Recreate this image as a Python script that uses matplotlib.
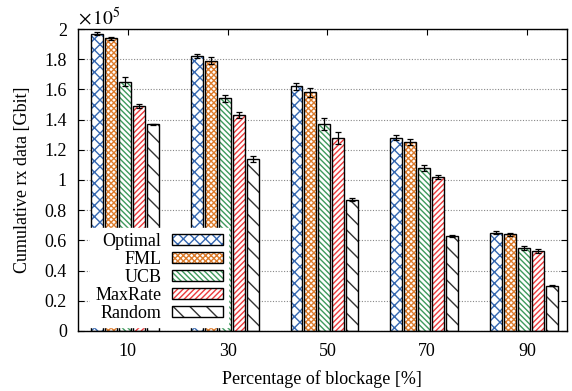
import numpy as np
import matplotlib
matplotlib.use("Agg")
import matplotlib.pyplot as plt
from matplotlib.patches import Patch
from matplotlib.legend_handler import HandlerTuple
import matplotlib.ticker as mticker

plt.rcParams["font.family"] = ["Liberation Serif", "DejaVu Serif"]
plt.rcParams["mathtext.fontset"] = "stix"
plt.rcParams["hatch.linewidth"] = 1.0

blockage = [10, 30, 50, 70, 90]
methods = ["Optimal", "FML", "UCB", "MaxRate", "Random"]

# cumulative rx data, in units of 1e5 Gbit
rx_mean = {
    "Optimal": [1.97, 1.82, 1.62, 1.28, 0.65],
    "FML":     [1.94, 1.79, 1.58, 1.25, 0.64],
    "UCB":     [1.65, 1.54, 1.37, 1.08, 0.55],
    "MaxRate": [1.49, 1.43, 1.28, 1.02, 0.53],
    "Random":  [1.37, 1.14, 0.87, 0.63, 0.30],
}
rx_err = {
    "Optimal": [0.010, 0.015, 0.025, 0.015, 0.010],
    "FML":     [0.010, 0.025, 0.030, 0.020, 0.008],
    "UCB":     [0.030, 0.025, 0.040, 0.020, 0.015],
    "MaxRate": [0.015, 0.020, 0.040, 0.015, 0.015],
    "Random":  [0.003, 0.020, 0.010, 0.005, 0.004],
}

COLORS = {"Optimal": "#3567b0", "FML": "#dd7c2c", "UCB": "#3e9a5c",
          "MaxRate": "#ec3a3c", "Random": "#333333"}
HATCHES = {"Optimal": "xxx", "FML": "xxxxxx", "UCB": "\\\\\\\\\\\\",
           "MaxRate": "//////", "Random": "\\\\"}

fig = plt.figure(figsize=(5.72, 3.91), dpi=100)
ax = fig.add_axes([0.1364, 0.1535, 0.8546, 0.7723])

width = 2.4
pitch = 2.8
x = np.array(blockage, dtype=float) - 0.6

for i, m in enumerate(methods):
    xs = x + (i - 2) * pitch
    ax.bar(xs, rx_mean[m], width, color="white", edgecolor=COLORS[m],
           hatch=HATCHES[m], linewidth=0, zorder=2)
    ax.bar(xs, rx_mean[m], width, color="none", edgecolor="black",
           linewidth=1.0, zorder=3)
    ax.errorbar(xs, rx_mean[m], yerr=rx_err[m], fmt="none", ecolor="black",
                elinewidth=0.9, capsize=2.5, capthick=0.9, zorder=4)

ax.set_xlim(0, 98)
ax.set_ylim(0, 2)
ax.set_xticks(blockage)
ax.set_yticks(np.arange(0, 2.01, 0.2))
ax.yaxis.set_major_formatter(mticker.FuncFormatter(lambda v, _: f"{v:g}"))
ax.tick_params(direction="in", top=True, right=True, labelsize=13,
               length=4, width=0.8)
ax.tick_params(axis="y", pad=8)
ax.tick_params(axis="x", pad=9)
ax.yaxis.grid(True, linestyle=(0, (1, 1.5)), color="#888888", linewidth=0.8)
ax.set_axisbelow(True)
for spine in ax.spines.values():
    spine.set_linewidth(1.0)

ax.set_xlabel("Percentage of blockage [%]", fontsize=13, labelpad=7)
ax.set_ylabel("Cumulative rx data [Gbit]", fontsize=13, labelpad=10)
ax.text(0.0, 1.0, r"$\times\,10^5$", transform=ax.transAxes, fontsize=14,
        ha="left", va="bottom")

handles = [(Patch(facecolor="white", edgecolor=COLORS[m], hatch=HATCHES[m],
                  linewidth=0),
            Patch(facecolor="none", edgecolor="black", linewidth=1.0))
           for m in methods]
leg = ax.legend(handles, methods, loc="lower left",
                bbox_to_anchor=(0.0245, 0.013),
                handler_map={tuple: HandlerTuple(ndivide=1, pad=0)},
                markerfirst=False, fontsize=13, frameon=True, fancybox=False,
                framealpha=1.0, edgecolor="white", handlelength=2.8,
                handleheight=0.55, labelspacing=0.05, handletextpad=0.6,
                borderpad=0.3, borderaxespad=0)
leg.set_zorder(5)

fig.savefig("out.png", dpi=100)
